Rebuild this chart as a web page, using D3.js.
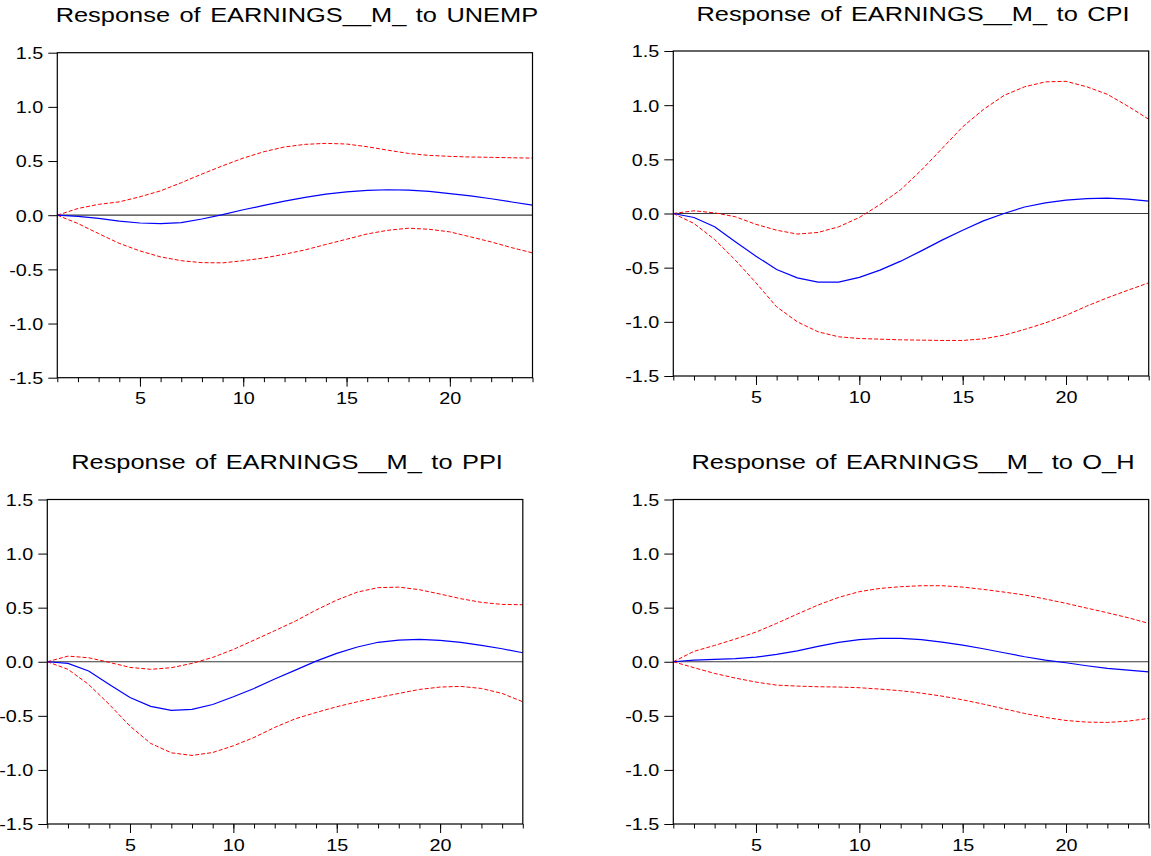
<!DOCTYPE html>
<html>
<head>
<meta charset="utf-8">
<script src="https://cdn.jsdelivr.net/npm/d3@7.9.0/dist/d3.min.js"></script>
<style>
  body { margin: 0; background: #fff; }
  svg { display: block; font-family: "Liberation Sans", Arial, sans-serif; }
</style>
</head>
<body>
<svg id="irf" width="1151" height="856"></svg>
<script>
const periods = [1, 2, 3, 4, 5, 6, 7, 8, 9, 10, 11, 12, 13, 14, 15, 16, 17, 18, 19, 20, 21, 22, 23, 24];
const yTicks = [-1.5, -1.0, -0.5, 0.0, 0.5, 1.0, 1.5];
const xLabelTicks = [5, 10, 15, 20];

// response to UNEMP
const unempResp = [0, -0.01, -0.03, -0.055, -0.072, -0.078, -0.068, -0.035, 0.005, 0.05, 0.09, 0.13,
  0.165, 0.195, 0.215, 0.23, 0.235, 0.232, 0.22, 0.2, 0.178, 0.152, 0.122, 0.093];
const unempUpper = [0, 0.062, 0.1, 0.123, 0.17, 0.225, 0.3, 0.38, 0.456, 0.527, 0.586, 0.63,
  0.654, 0.663, 0.657, 0.632, 0.6, 0.57, 0.552, 0.543, 0.537, 0.534, 0.53, 0.527];
const unempLower = [0, -0.077, -0.17, -0.26, -0.33, -0.385, -0.42, -0.438, -0.44, -0.42, -0.395, -0.36,
  -0.32, -0.27, -0.222, -0.173, -0.139, -0.12, -0.13, -0.154, -0.2, -0.247, -0.3, -0.348];

// response to CPI
const cpiResp = [0, -0.037, -0.123, -0.26, -0.394, -0.517, -0.594, -0.634, -0.634, -0.59, -0.523, -0.44,
  -0.345, -0.246, -0.154, -0.068, 0, 0.06, 0.098, 0.123, 0.138, 0.142, 0.132, 0.114];
const cpiUpper = [0, 0.025, 0.006, -0.03, -0.1, -0.154, -0.19, -0.175, -0.123, -0.037, 0.083, 0.22,
  0.4, 0.6, 0.8, 0.96, 1.09, 1.17, 1.215, 1.22, 1.17, 1.1, 0.99, 0.87];
const cpiLower = [0, -0.092, -0.24, -0.43, -0.64, -0.862, -1.0, -1.092, -1.138, -1.154, -1.16, -1.166,
  -1.169, -1.172, -1.172, -1.157, -1.123, -1.07, -1.01, -0.94, -0.855, -0.778, -0.708, -0.64];

// response to PPI
const ppiResp = [0, -0.015, -0.086, -0.21, -0.33, -0.413, -0.45, -0.441, -0.395, -0.324, -0.247, -0.16,
  -0.077, 0.006, 0.077, 0.136, 0.18, 0.2, 0.207, 0.197, 0.179, 0.151, 0.12, 0.083];
const ppiUpper = [0, 0.052, 0.037, -0.006, -0.052, -0.07, -0.055, -0.015, 0.04, 0.114, 0.2, 0.287,
  0.376, 0.478, 0.57, 0.644, 0.685, 0.69, 0.666, 0.626, 0.583, 0.549, 0.53, 0.527];
const ppiLower = [0, -0.07, -0.21, -0.395, -0.595, -0.755, -0.842, -0.866, -0.839, -0.777, -0.7, -0.607,
  -0.527, -0.469, -0.416, -0.37, -0.33, -0.293, -0.256, -0.234, -0.228, -0.247, -0.293, -0.37];

// response to O_H
const ohResp = [0, 0.015, 0.022, 0.028, 0.043, 0.068, 0.1, 0.142, 0.179, 0.204, 0.216, 0.216,
  0.204, 0.182, 0.154, 0.12, 0.083, 0.046, 0.015, -0.009, -0.037, -0.062, -0.077, -0.093];
const ohUpper = [0, 0.096, 0.151, 0.21, 0.274, 0.355, 0.441, 0.524, 0.595, 0.648, 0.678, 0.694,
  0.703, 0.703, 0.69, 0.669, 0.644, 0.617, 0.58, 0.54, 0.496, 0.453, 0.407, 0.355];
const ohLower = [0, -0.055, -0.108, -0.151, -0.188, -0.216, -0.225, -0.231, -0.234, -0.24, -0.253, -0.268,
  -0.29, -0.318, -0.352, -0.392, -0.435, -0.478, -0.515, -0.543, -0.558, -0.561, -0.549, -0.524];

const panels = [
  { title: 'Response of EARNINGS__M_ to UNEMP', resp: unempResp, upper: unempUpper, lower: unempLower,
    left: 57.3, right: 532.5, top: 52.7, bottom: 377.7 },
  { title: 'Response of EARNINGS__M_ to CPI', resp: cpiResp, upper: cpiUpper, lower: cpiLower,
    left: 673.3, right: 1148.7, top: 51, bottom: 376 },
  { title: 'Response of EARNINGS__M_ to PPI', resp: ppiResp, upper: ppiUpper, lower: ppiLower,
    left: 47.3, right: 522.8, top: 499.5, bottom: 824 },
  { title: 'Response of EARNINGS__M_ to O_H', resp: ohResp, upper: ohUpper, lower: ohLower,
    left: 673.3, right: 1148.7, top: 499.5, bottom: 824 },
];

const stretch = 1.2;   // the original picture is widened a bit
const tickFont = 16.5;
const svg = d3.select('#irf');

panels.forEach((p) => {
  const g = svg.append('g');
  const x = d3.scaleLinear().domain([1, 24]).range([p.left, p.right]);
  const y = d3.scaleLinear().domain([-1.5, 1.5]).range([p.bottom, p.top]);

  // title
  g.append('text')
    .attr('transform', `translate(${(p.left + p.right) / 2 + 2},${p.top - 30.5}) scale(1.21,1)`)
    .attr('text-anchor', 'middle')
    .attr('font-size', 21)
    .attr('word-spacing', 2)
    .attr('fill', '#000')
    .text(p.title);

  // y axis
  const yAxis = g.append('g')
    .attr('transform', `translate(${p.left},0)`)
    .call(d3.axisLeft(y).tickValues(yTicks).tickSize(9).tickFormat((d) => d.toFixed(1)));
  yAxis.select('.domain').remove();
  yAxis.attr('color', '#000').attr('font-family', null).attr('font-size', null);
  yAxis.selectAll('text')
    .attr('x', null)
    .attr('dy', null)
    .attr('font-size', tickFont)
    .attr('transform', `translate(-14,${tickFont * 0.36}) scale(${stretch},1)`);

  // minor x ticks
  const xMinor = g.append('g')
    .attr('transform', `translate(0,${p.bottom})`)
    .call(d3.axisBottom(x).tickValues(periods).tickSize(4.5).tickFormat(''));
  xMinor.select('.domain').remove();
  xMinor.attr('color', '#000');

  // labelled x ticks
  const xAxis = g.append('g')
    .attr('transform', `translate(0,${p.bottom})`)
    .call(d3.axisBottom(x).tickValues(xLabelTicks).tickSize(9).tickFormat(d3.format('d')));
  xAxis.select('.domain').remove();
  xAxis.attr('color', '#000').attr('font-family', null).attr('font-size', null);
  xAxis.selectAll('text')
    .attr('y', null)
    .attr('dy', null)
    .attr('font-size', tickFont)
    .attr('transform', `translate(0,26.5) scale(${stretch},1)`);

  // zero line
  g.append('line')
    .attr('x1', p.left).attr('x2', p.right)
    .attr('y1', y(0)).attr('y2', y(0))
    .attr('stroke', '#3a3a3a')
    .attr('stroke-width', 1.2);

  const line = d3.line()
    .x((d, i) => x(periods[i]))
    .y((d) => y(d));

  [p.upper, p.lower].forEach((band) => {
    g.append('path')
      .attr('d', line(band))
      .attr('fill', 'none')
      .attr('stroke', '#ff0000')
      .attr('stroke-width', 1)
      .attr('stroke-dasharray', '4,2');
  });

  g.append('path')
    .attr('d', line(p.resp))
    .attr('fill', 'none')
    .attr('stroke', '#0000ff')
    .attr('stroke-width', 1.2);

  // frame
  g.append('rect')
    .attr('x', p.left).attr('y', p.top)
    .attr('width', p.right - p.left).attr('height', p.bottom - p.top)
    .attr('fill', 'none')
    .attr('stroke', '#000')
    .attr('stroke-width', 1.2);
});
</script>
</body>
</html>
